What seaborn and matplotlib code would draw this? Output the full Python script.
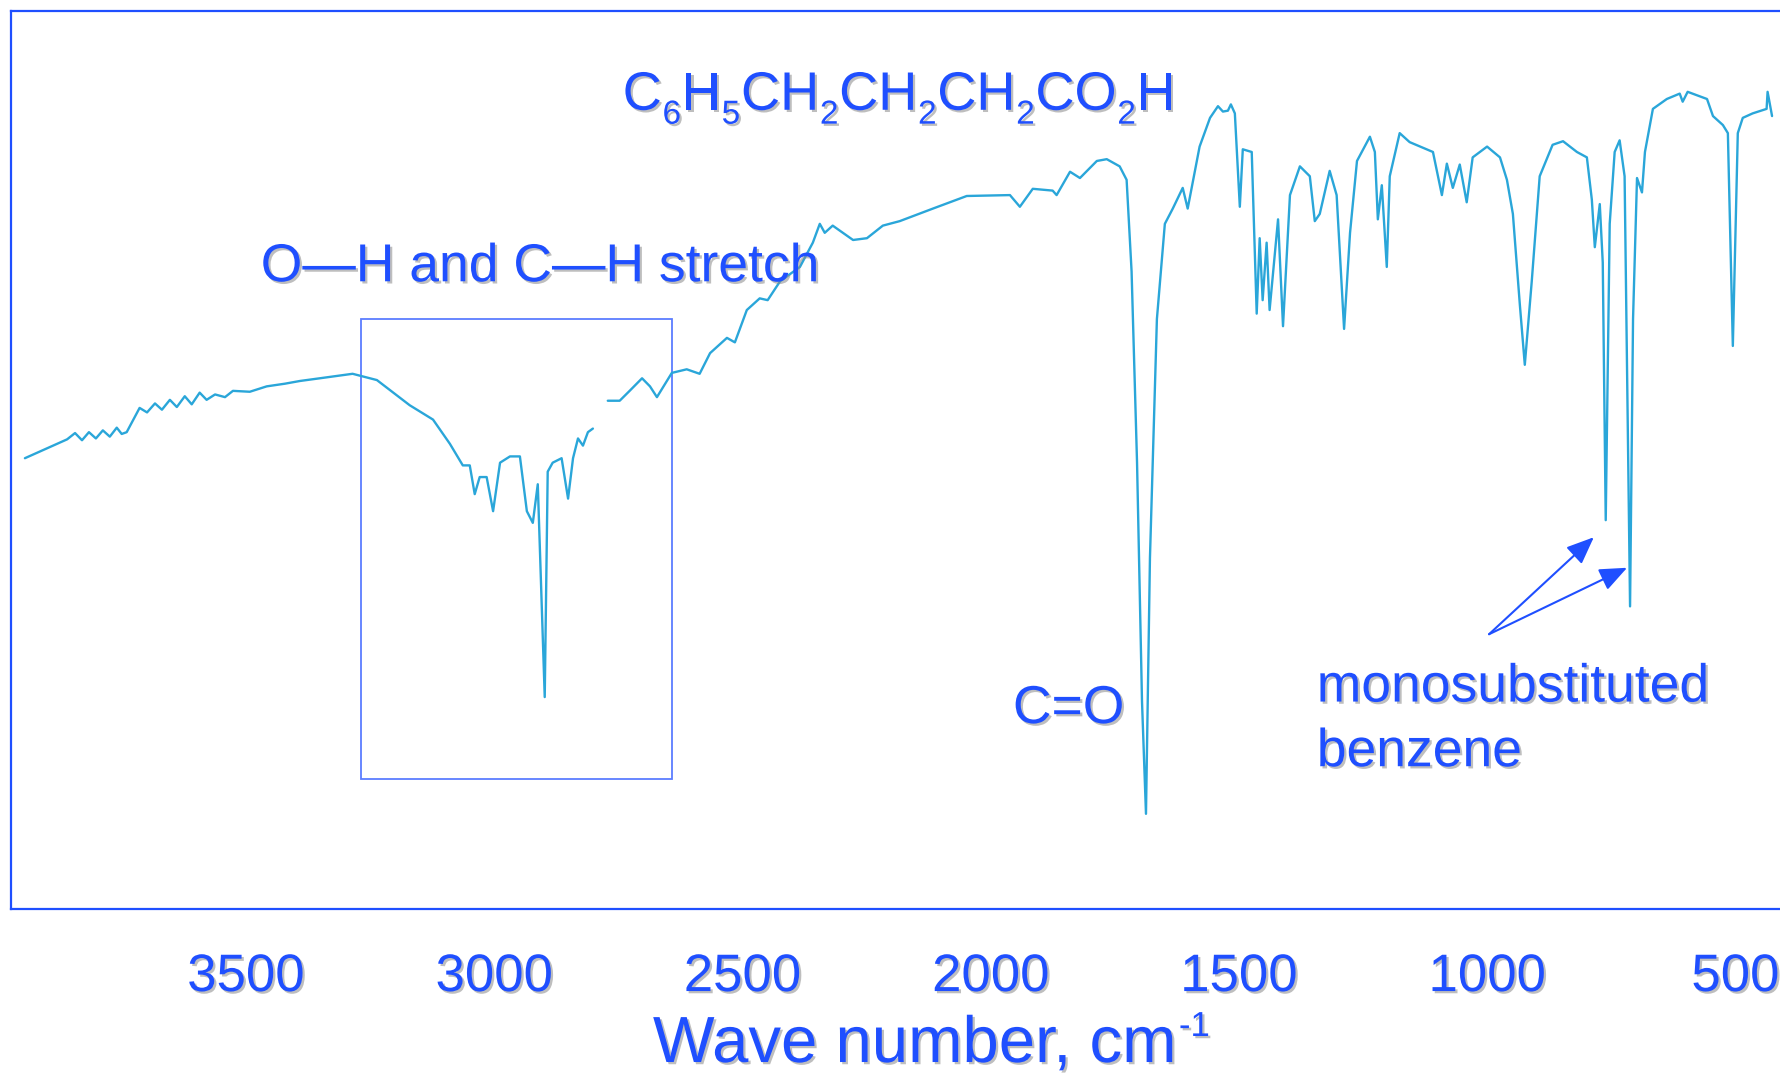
import numpy as np
import pandas as pd
import seaborn as sns
import matplotlib.pyplot as plt
import matplotlib.patheffects as pe
import matplotlib.transforms as mtransforms
from matplotlib.patches import Rectangle

# IR spectrum of 4-phenylbutanoic acid
# (transmittance in % of the frame height, wave number in cm-1)
wn_high = [3945, 3860, 3844, 3830, 3816, 3802, 3788, 3774, 3760, 3750, 3740, 3714, 3699, 3683,
           3669, 3653, 3639, 3623, 3609, 3593, 3579, 3562, 3542, 3526, 3492, 3458, 3421, 3391,
           3351, 3285, 3236, 3170, 3123, 3089, 3063, 3049, 3039, 3029, 3015, 3002, 2988, 2968,
           2948, 2934, 2922, 2912, 2898, 2892, 2882, 2864, 2851, 2841, 2831, 2821, 2811, 2801]
t_high = [50.2, 52.3, 53.0, 52.2, 53.1, 52.4, 53.3, 52.6, 53.6, 52.9, 53.1, 55.8, 55.3, 56.3,
          55.6, 56.7, 55.9, 57.1, 56.2, 57.5, 56.7, 57.3, 57.0, 57.7, 57.6, 58.2, 58.5, 58.8,
          59.1, 59.6, 58.9, 56.1, 54.5, 51.8, 49.4, 49.4, 46.2, 48.1, 48.1, 44.3, 49.7, 50.4,
          50.4, 44.3, 43.0, 47.3, 23.6, 48.7, 49.7, 50.2, 45.7, 50.2, 52.4, 51.6, 53.1, 53.5]

wn_low = [2771, 2747, 2727, 2702, 2686, 2672, 2642, 2612, 2586, 2565, 2531, 2515, 2491, 2465,
          2449, 2424, 2384, 2358, 2344, 2334, 2318, 2277, 2249, 2217, 2183, 2116, 2048, 1961,
          1941, 1915, 1875, 1867, 1840, 1820, 1786, 1766, 1740, 1726, 1716, 1705, 1695, 1687,
          1679, 1665, 1649, 1633, 1613, 1603, 1579, 1558, 1542, 1532, 1522, 1516, 1508, 1498,
          1492, 1474, 1464, 1458, 1452, 1444, 1438, 1421, 1411, 1397, 1377, 1357, 1347, 1337,
          1317, 1303, 1288, 1276, 1262, 1236, 1226, 1220, 1212, 1202, 1196, 1176, 1156, 1109,
          1091, 1081, 1069, 1055, 1041, 1029, 1000, 974, 960, 948, 934, 924, 910, 894,
          868, 847, 819, 799, 789, 783, 773, 767, 761, 753, 743, 733, 723, 712,
          706, 698, 688, 682, 666, 638, 612, 606, 596, 557, 545, 525, 515, 505,
          495, 485, 465, 437, 435, 426]
t_low = [56.6, 56.6, 57.7, 59.1, 58.2, 57.0, 59.7, 60.1, 59.6, 61.9, 63.6, 63.1, 66.7, 68.0,
         67.8, 69.9, 71.5, 74.2, 76.3, 75.3, 76.1, 74.5, 74.7, 76.1, 76.6, 78.0, 79.4, 79.5,
         78.2, 80.2, 80.0, 79.5, 82.1, 81.4, 83.3, 83.5, 82.7, 81.2, 71.0, 49.7, 23.1, 10.6,
         39.1, 65.7, 76.3, 78.0, 80.3, 78.0, 84.9, 88.1, 89.4, 88.8, 88.9, 89.6, 88.6, 78.2,
         84.6, 84.3, 66.3, 74.7, 67.8, 74.2, 66.7, 76.8, 64.9, 79.5, 82.7, 81.6, 76.6, 77.4,
         82.2, 79.5, 64.6, 75.3, 83.3, 86.0, 84.3, 76.8, 80.6, 71.5, 81.6, 86.4, 85.4, 84.3,
         79.5, 83.0, 80.3, 82.9, 78.7, 83.7, 84.9, 83.7, 81.2, 77.4, 67.3, 60.6, 69.9, 81.6,
         85.1, 85.5, 84.3, 83.7, 79.0, 73.7, 78.5, 72.0, 43.3, 76.3, 84.3, 85.6, 81.6, 33.7,
         65.7, 81.4, 79.8, 84.3, 89.1, 90.2, 90.8, 89.9, 91.0, 90.2, 88.3, 87.3, 86.4, 62.7,
         86.4, 88.1, 88.6, 89.1, 91.0, 88.3]

tick_values = [3500, 3000, 2500, 2000, 1500, 1000, 500]

# formula as (text, is_subscript) pieces
formula = [("C", 0), ("6", 1), ("H", 0), ("5", 1), ("CH", 0), ("2", 1), ("CH", 0), ("2", 1),
           ("CH", 0), ("2", 1), ("CO", 0), ("2", 1), ("H", 0)]
stretch_label = "O\u2014H and C\u2014H stretch"
carbonyl_label = "C=O"
benzene_label = ["monosubstituted", "benzene"]
xlabel_main = "Wave number, cm"
xlabel_sup = "-1"

# stretch region box and arrow targets (cm-1, %)
box_wn = (2642, 3268)
box_t = (14.5, 65.7)
arrow_tail = (996, 30.6)
arrow_heads = [(785, 41.4), (718, 38.0)]

blue = "#1f4fff"
line_color = "#2aa6d9"

sns.set_style("white")
plt.rcParams["font.family"] = ["Liberation Sans", "DejaVu Sans"]

df = pd.concat([
    pd.DataFrame({"wn": wn_high, "t": t_high, "seg": 0}),
    pd.DataFrame({"wn": wn_low, "t": t_low, "seg": 1}),
])

fig = plt.figure(figsize=(17.8, 10.73), dpi=100)
ax = fig.add_axes([11 / 1780, 164 / 1073, 1 - 11 / 1780, 898 / 1073])

sns.lineplot(data=df, x="wn", y="t", units="seg", estimator=None, sort=False,
             color=line_color, linewidth=1.7, ax=ax)

ax.set_xlim(3973, 410)
ax.set_ylim(0, 100)
ax.set_yticks([])
ax.set_ylabel("")
ax.set_xticks(tick_values)
ax.set_xticklabels([str(v) for v in tick_values])

shadow = [pe.withSimplePatchShadow(offset=(1.6, -1.6), shadow_rgbFace="#8a8a8a", alpha=0.55)]

ax.tick_params(axis="x", direction="in", length=41, width=3.2, color=blue,
               labelcolor=blue, labelsize=38, pad=31)
for lab in ax.get_xticklabels():
    lab.set_path_effects(shadow)

for side in ["left", "top", "bottom"]:
    ax.spines[side].set_color(blue)
    ax.spines[side].set_linewidth(1.6)
ax.spines["right"].set_visible(False)

ax.set_xlabel(xlabel_main, fontsize=47, color=blue)
ax.xaxis.label.set_va("baseline")
ax.xaxis.set_label_coords(0.5107, -0.1704)
ax.xaxis.label.set_path_effects(shadow)

ax.add_patch(Rectangle((box_wn[0], box_t[0]), box_wn[1] - box_wn[0], box_t[1] - box_t[0],
                       fill=False, edgecolor="#5c7dff", linewidth=1.3, zorder=1))

txt = dict(color=blue, ha="left", va="baseline", path_effects=shadow)
ax.text(3470, 69.9, stretch_label, fontsize=38.5, **txt)
ax.text(1955, 20.7, carbonyl_label, fontsize=38.5, **txt)
ax.text(1343, 23.1, benzene_label[0], fontsize=38.5, **txt)
ax.text(1343, 15.9, benzene_label[1], fontsize=38.5, **txt)

for head in arrow_heads:
    ax.annotate("", xy=head, xytext=arrow_tail,
                arrowprops=dict(arrowstyle="-|>,head_length=0.6,head_width=0.25",
                                color=blue, lw=1.5, mutation_scale=28,
                                shrinkA=0, shrinkB=0))

# formula with real subscripts, laid out piece by piece
renderer = fig.canvas.get_renderer()
x_off = 0.0
for piece, sub in formula:
    tr = mtransforms.offset_copy(ax.transData, fig=fig, x=x_off,
                                 y=-10 if sub else 0, units="points")
    t = ax.text(2741, 89.0, piece, transform=tr, fontsize=24 if sub else 39, **txt)
    x_off += t.get_window_extent(renderer).width * 72 / fig.dpi + 0.5

# superscript of the axis label, right after "cm"
fig.canvas.draw()
bb = ax.xaxis.label.get_window_extent(renderer)
fig.text((bb.x1 + 3) / 1780, (1073 - 1062 + 26) / 1073, xlabel_sup, fontsize=25,
         color=blue, ha="left", va="baseline", path_effects=shadow)

fig.savefig("out.png", dpi=100)
